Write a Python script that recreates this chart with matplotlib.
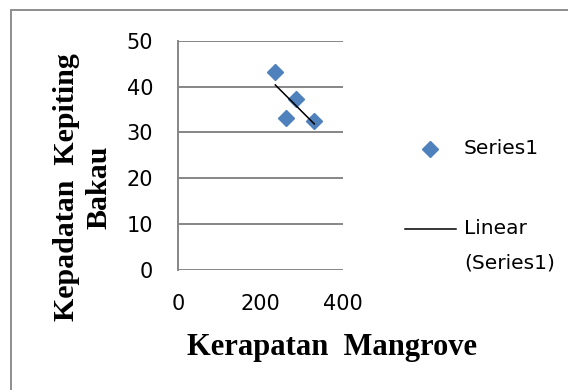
import matplotlib.pyplot as plt
import numpy as np
from matplotlib.lines import Line2D
from matplotlib.patches import Rectangle

# Data
kerapatan = [236, 262, 287, 331]   # Kerapatan Mangrove
kepadatan = [43.2, 33.2, 37.2, 32.4]  # Kepadatan Kepiting Bakau

x_ticks = [0, 200, 400]
y_ticks = [0, 10, 20, 30, 40, 50]

W, H = 568, 390
fig = plt.figure(figsize=(W / 100, H / 100), dpi=100)

# outer chart border
fig.patches.append(Rectangle((10.5 / W, -0.1), 1.2, 1 - 10 / H + 0.1,
                             transform=fig.transFigure, fill=False,
                             edgecolor='#8e8e8e', linewidth=1.4))

ax = fig.add_axes([178.3 / W, 1 - 270 / H, 164.4 / W, 229.3 / H])

grid_color = '#868686'
marker_color = '#4f81bd'
for yv in y_ticks:
    ax.axhline(yv, color=grid_color, linewidth=1.4, zorder=1)

ax.plot(kerapatan, kepadatan, linestyle='none', marker='D', markersize=8,
        color=marker_color, zorder=3)

# linear trendline
coef = np.polyfit(kerapatan, kepadatan, 1)
xs = np.array([min(kerapatan), max(kerapatan)])
ax.plot(xs, np.polyval(coef, xs), color='black', linewidth=1.1, zorder=4)

ax.set_xlim(0, 400)
ax.set_ylim(0, 50)
ax.set_xticks(x_ticks)
ax.set_yticks(y_ticks)
ax.tick_params(length=0, labelsize=15)
ax.tick_params(axis='x', pad=17)
ax.tick_params(axis='y', pad=18)
for lab in ax.get_xticklabels() + ax.get_yticklabels():
    lab.set_fontfamily('DejaVu Sans')

for side in ['top', 'right', 'bottom']:
    ax.spines[side].set_visible(False)
ax.spines['left'].set_color(grid_color)
ax.spines['left'].set_linewidth(1.4)

label_font = {'fontfamily': 'Liberation Serif', 'fontweight': 'bold'}
fig.text(332 / W, 1 - 348 / H, 'Kerapatan  Mangrove', fontsize=22,
         ha='center', va='center', **label_font)
fig.text(83 / W, 1 - 187 / H, 'Kepadatan  Kepiting\nBakau', fontsize=21.5,
         rotation=90, ha='center', va='center', linespacing=1.25,
         multialignment='center', **label_font)

# legend drawn by hand to match Excel's layout
legend_font = {'fontfamily': 'DejaVu Sans', 'fontsize': 14.5}
fig.add_artist(Line2D([430 / W], [1 - 149 / H], marker='D', markersize=8,
                      color=marker_color, linestyle='none',
                      transform=fig.transFigure))
fig.text(464 / W, 1 - 149 / H, 'Series1', ha='left', va='center', **legend_font)
fig.add_artist(Line2D([405 / W, 456 / W], [1 - 229 / H, 1 - 229 / H],
                      color='black', linewidth=1.1, transform=fig.transFigure))
fig.text(464 / W, 1 - 229 / H, 'Linear', ha='left', va='center', **legend_font)
fig.text(464 / W, 1 - 263 / H, '(Series1)', ha='left', va='center',
         **legend_font)

fig.savefig('out.png', dpi=100)
